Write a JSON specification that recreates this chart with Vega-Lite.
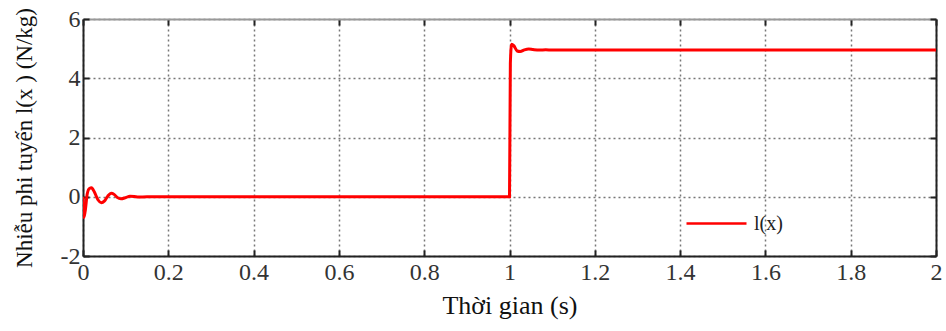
{
  "$schema": "https://vega.github.io/schema/vega-lite/v6.json",
  "width": 853,
  "height": 237,
  "autosize": {"type": "none"},
  "padding": {"left": 83, "top": 19, "right": 10, "bottom": 75},
  "background": "white",
  "config": {
    "font": "Liberation Serif",
    "view": {"stroke": null},
    "axis": {
      "labelFont": "Liberation Serif",
      "titleFont": "Liberation Serif",
      "gridColor": "#777",
      "gridDash": [2, 3],
      "gridWidth": 1.5,
      "gridOpacity": 1
    }
  },
  "data": {
    "values": [
      {"t": 0, "v": 0, "s": "l(x)"},
      {"t": 0.002, "v": -0.7, "s": "l(x)"},
      {"t": 0.005, "v": -0.5, "s": "l(x)"},
      {"t": 0.01, "v": 0.1, "s": "l(x)"},
      {"t": 0.015, "v": 0.28, "s": "l(x)"},
      {"t": 0.02, "v": 0.3, "s": "l(x)"},
      {"t": 0.027, "v": 0.15, "s": "l(x)"},
      {"t": 0.035, "v": -0.1, "s": "l(x)"},
      {"t": 0.043, "v": -0.2, "s": "l(x)"},
      {"t": 0.05, "v": -0.15, "s": "l(x)"},
      {"t": 0.058, "v": 0.02, "s": "l(x)"},
      {"t": 0.066, "v": 0.12, "s": "l(x)"},
      {"t": 0.073, "v": 0.08, "s": "l(x)"},
      {"t": 0.08, "v": -0.02, "s": "l(x)"},
      {"t": 0.089, "v": -0.07, "s": "l(x)"},
      {"t": 0.1, "v": -0.03, "s": "l(x)"},
      {"t": 0.11, "v": 0.02, "s": "l(x)"},
      {"t": 0.12, "v": 0.01, "s": "l(x)"},
      {"t": 0.13, "v": -0.01, "s": "l(x)"},
      {"t": 0.15, "v": 0, "s": "l(x)"},
      {"t": 0.999, "v": 0, "s": "l(x)"},
      {"t": 1.0, "v": 0, "s": "l(x)"},
      {"t": 1.002, "v": 4.5, "s": "l(x)"},
      {"t": 1.005, "v": 5.15, "s": "l(x)"},
      {"t": 1.01, "v": 5.1, "s": "l(x)"},
      {"t": 1.018, "v": 4.92, "s": "l(x)"},
      {"t": 1.025, "v": 4.9, "s": "l(x)"},
      {"t": 1.035, "v": 4.96, "s": "l(x)"},
      {"t": 1.045, "v": 4.99, "s": "l(x)"},
      {"t": 1.055, "v": 4.97, "s": "l(x)"},
      {"t": 1.07, "v": 4.95, "s": "l(x)"},
      {"t": 1.085, "v": 4.96, "s": "l(x)"},
      {"t": 1.1, "v": 4.95, "s": "l(x)"},
      {"t": 2, "v": 4.95, "s": "l(x)"}
    ]
  },
  "layer": [
    {
      "mark": {"type": "line", "strokeWidth": 3, "interpolate": "monotone", "clip": true},
      "encoding": {
        "x": {
          "field": "t", "type": "quantitative",
          "scale": {"domain": [0, 2], "nice": false},
          "axis": {
            "title": "Thời gian (s)",
            "values": [0, 0.2, 0.4, 0.6, 0.8, 1, 1.2, 1.4, 1.6, 1.8, 2],
            "labelExpr": "toString(datum.value)",
            "labelFontSize": 24, "labelColor": "#333",
            "titleFontSize": 26, "titleFontWeight": "normal", "titleColor": "#111",
            "labelPadding": 10, "titlePadding": 8, "labelFlush": false,
            "domainColor": "#222", "domainWidth": 2,
            "tickColor": "#222", "tickWidth": 2, "tickSize": -6
          }
        },
        "y": {
          "field": "v", "type": "quantitative",
          "scale": {"domain": [-2, 6], "nice": false},
          "axis": {
            "title": "Nhiễu phi tuyến l(x ) (N/kg)",
            "values": [-2, 0, 2, 4, 6],
            "labelExpr": "toString(datum.value)",
            "labelFontSize": 24, "labelColor": "#333",
            "titleFontSize": 23, "titleFontWeight": "normal", "titleColor": "#111",
            "labelPadding": 9, "titlePadding": 24, "labelFlush": false,
            "domainColor": "#222", "domainWidth": 2,
            "tickColor": "#222", "tickWidth": 2, "tickSize": -6
          }
        },
        "color": {
          "field": "s", "type": "nominal",
          "scale": {"range": ["#ff0000"]},
          "legend": {
            "title": null,
            "orient": "none",
            "legendX": 602,
            "legendY": 173,
            "symbolType": "stroke",
            "symbolSize": 3600,
            "symbolStrokeWidth": 2.5,
            "labelFont": "Liberation Serif",
            "labelFontSize": 20,
            "labelColor": "#222",
            "labelOffset": 6
          }
        }
      }
    },
    {
      "mark": {"type": "line", "strokeWidth": 0, "opacity": 0},
      "encoding": {
        "x": {
          "field": "t", "type": "quantitative",
          "scale": {"domain": [0, 2], "nice": false},
          "axis": {
            "orient": "top", "title": null, "labels": false, "grid": false,
            "domainColor": "#999", "domainWidth": 2,
            "tickColor": "#222", "tickWidth": 2, "tickSize": -6,
            "values": [0, 0.2, 0.4, 0.6, 0.8, 1, 1.2, 1.4, 1.6, 1.8, 2]
          }
        },
        "y": {
          "field": "v", "type": "quantitative",
          "scale": {"domain": [-2, 6], "nice": false},
          "axis": {
            "orient": "right", "title": null, "labels": false, "grid": false,
            "domainColor": "#222", "domainWidth": 2,
            "tickColor": "#222", "tickWidth": 2, "tickSize": -6,
            "values": [-2, 0, 2, 4, 6]
          }
        }
      }
    }
  ],
  "resolve": {"axis": {"x": "independent", "y": "independent"}}
}
